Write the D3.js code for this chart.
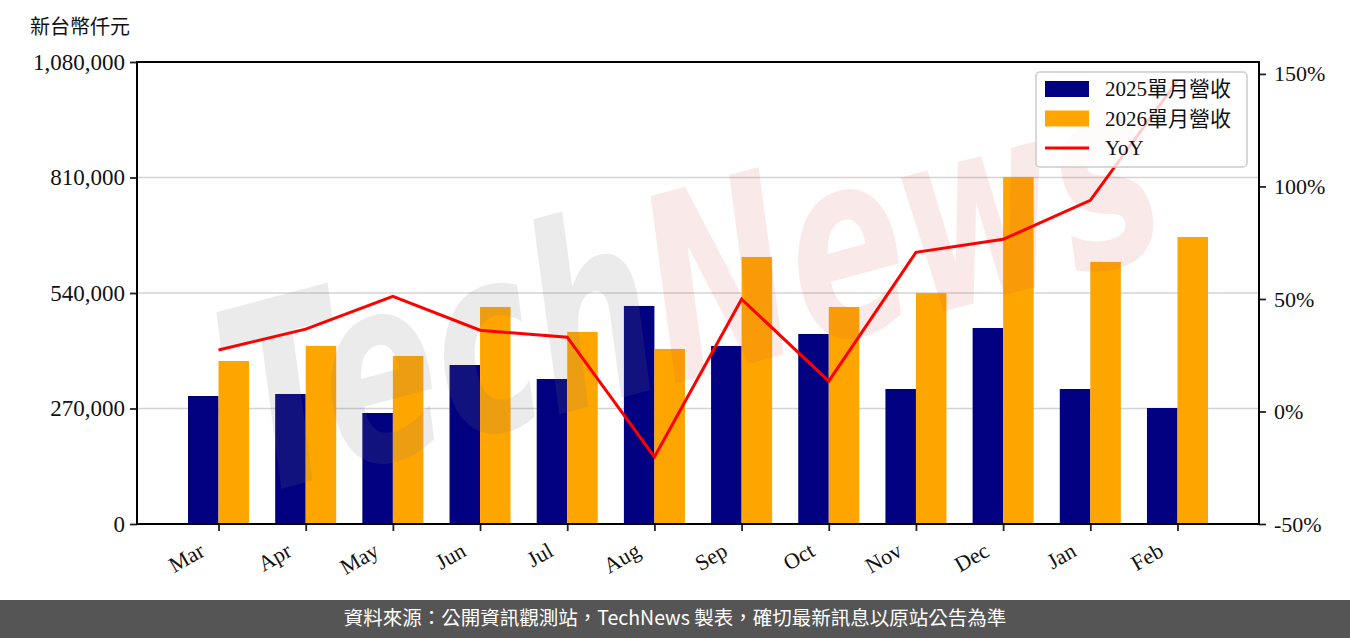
<!DOCTYPE html>
<html>
<head>
<meta charset="utf-8">
<script src="https://cdn.jsdelivr.net/npm/d3@7"></script>
<style>
  body { margin: 0; background: #fff; }
  svg { display: block; }
</style>
</head>
<body>
<div id="chart"></div>
<script>
// monthly revenue, thousand NTD
const months = ["Mar", "Apr", "May", "Jun", "Jul", "Aug", "Sep", "Oct", "Nov", "Dec", "Jan", "Feb"];
const rev2025 = [299200, 303900, 259500, 371700, 339000, 509700, 416200, 444200, 315600, 458200, 315600, 271200];
const rev2026 = [381100, 416200, 392800, 507300, 448900, 409200, 624200, 507300, 540100, 811300, 612600, 671000];
const yoy = [27.3, 36.6, 51.2, 36.1, 33.0, -20.2, 49.9, 13.5, 70.7, 76.5, 93.8, 147.0];

const leftTicks = [0, 270000, 540000, 810000, 1080000];
const rightTicks = [-50, 0, 50, 100, 150];
const seriesNames = ["2025單月營收", "2026單月營收", "YoY"];

const width = 1350, height = 638;
const margin = {top: 62, right: 91, bottom: 114, left: 137};
const innerW = width - margin.left - margin.right;
const innerH = height - margin.top - margin.bottom;
const barW = 0.35;

const serif = '"Liberation Serif", "Noto Sans CJK TC", serif';

const svg = d3.select("#chart").append("svg")
    .attr("width", width)
    .attr("height", height);

const span = months.length - 1 + 2 * barW;
const x = d3.scaleLinear()
    .domain([-barW - 0.05 * span, months.length - 1 + barW + 0.05 * span])
    .range([0, innerW]);
const y = d3.scaleLinear().domain([0, 1080000]).range([innerH, 0]);
const y2 = d3.scaleLinear().domain([-50, 155.3]).range([innerH, 0]);

const g = svg.append("g").attr("transform", `translate(${margin.left},${margin.top})`);

// grid
g.selectAll(".grid").data(leftTicks)
    .enter().append("line")
    .attr("class", "grid")
    .attr("x1", 0).attr("x2", innerW)
    .attr("y1", d => y(d)).attr("y2", d => y(d))
    .attr("stroke", "#d3d3d3")
    .attr("stroke-width", 1.6);

// bars
const idx = d3.range(months.length);
g.selectAll(".b25").data(idx)
    .enter().append("rect")
    .attr("class", "b25")
    .attr("x", i => x(i - barW))
    .attr("width", i => x(i) - x(i - barW))
    .attr("y", i => y(rev2025[i]))
    .attr("height", i => y(0) - y(rev2025[i]))
    .attr("fill", "#000080");

g.selectAll(".b26").data(idx)
    .enter().append("rect")
    .attr("class", "b26")
    .attr("x", i => x(i))
    .attr("width", i => x(i + barW) - x(i))
    .attr("y", i => y(rev2026[i]))
    .attr("height", i => y(0) - y(rev2026[i]))
    .attr("fill", "#FFA500");

// watermark
const wm = g.append("text")
    .attr("transform", `translate(${695 - margin.left},${305 - margin.top}) rotate(-15) scale(0.72,1.08)`)
    .attr("text-anchor", "middle")
    .attr("dominant-baseline", "middle")
    .attr("font-family", '"DejaVu Sans", sans-serif')
    .attr("font-style", "italic")
    .attr("font-weight", "bold")
    .attr("font-size", 238)
    .style("pointer-events", "none");
wm.append("tspan").text("Tech").attr("fill", "#7a7a7a").attr("fill-opacity", 0.15);
wm.append("tspan").text("News").attr("fill", "#d04a4a").attr("fill-opacity", 0.12);

// yoy line
const line = d3.line()
    .x((d, i) => x(i))
    .y(d => y2(d));
g.append("path")
    .datum(yoy)
    .attr("d", line)
    .attr("fill", "none")
    .attr("stroke", "#FF0000")
    .attr("stroke-width", 3)
    .attr("stroke-linejoin", "miter");

// axes
const yAxis = d3.axisLeft(y).tickValues(leftTicks).tickFormat(d3.format(",")).tickSizeOuter(0).tickSize(7).tickPadding(5);
const yAxis2 = d3.axisRight(y2).tickValues(rightTicks).tickFormat(d => d + "%").tickSizeOuter(0).tickSize(7).tickPadding(8);
const xAxis = d3.axisBottom(x).tickValues(idx).tickFormat(i => months[i]).tickSizeOuter(0).tickSize(7);

const ga = g.append("g").call(yAxis);
const gb = g.append("g").attr("transform", `translate(${innerW},0)`).call(yAxis2);
const gx = g.append("g").attr("transform", `translate(0,${innerH})`).call(xAxis);

[ga, gb, gx].forEach(a => {
    a.select(".domain").remove();
    a.selectAll(".tick line").attr("stroke", "#222").attr("stroke-width", 1.8);
    a.selectAll(".tick text").attr("font-family", serif).attr("font-size", 23).attr("fill", "#111");
});
gb.selectAll(".tick text").attr("font-size", 22);

gx.selectAll(".tick text")
    .attr("text-anchor", "end")
    .attr("dy", 0)
    .attr("y", 0)
    .attr("font-size", 22)
    .attr("transform", "translate(-13,31) rotate(-30)");

// frame
g.append("rect")
    .attr("width", innerW).attr("height", innerH)
    .attr("fill", "none")
    .attr("stroke", "#000")
    .attr("stroke-width", 2);

// y label
svg.append("text")
    .attr("x", 30).attr("y", 34)
    .attr("font-family", '"Noto Sans CJK TC", sans-serif')
    .attr("font-size", 20)
    .attr("fill", "#111")
    .text("新台幣仟元");

// legend
const lg = svg.append("g").attr("transform", "translate(1036,72)");
lg.append("rect")
    .attr("width", 211).attr("height", 95)
    .attr("rx", 4)
    .attr("fill", "#fff").attr("fill-opacity", 0.8)
    .attr("stroke", "#cccccc").attr("stroke-width", 1.5);
const legendColors = ["#000080", "#FFA500", "#FF0000"];
seriesNames.forEach((name, i) => {
    const cy = 17 + i * 29.5;
    if (i < 2) {
        lg.append("rect").attr("x", 9).attr("y", cy - 8).attr("width", 44).attr("height", 16).attr("fill", legendColors[i]);
    } else {
        lg.append("line").attr("x1", 9).attr("x2", 53).attr("y1", cy).attr("y2", cy)
            .attr("stroke", legendColors[i]).attr("stroke-width", 3);
    }
    lg.append("text")
        .attr("x", 69).attr("y", cy)
        .attr("dy", "0.35em")
        .attr("font-family", serif)
        .attr("font-size", 21)
        .attr("fill", "#111")
        .text(name);
});

// footer banner
svg.append("rect")
    .attr("x", 0).attr("y", 600)
    .attr("width", width).attr("height", 38)
    .attr("fill", "#555555");
svg.append("text")
    .attr("x", width / 2).attr("y", 620)
    .attr("text-anchor", "middle")
    .attr("dominant-baseline", "middle")
    .attr("font-family", '"Noto Sans CJK TC", sans-serif')
    .attr("font-size", 19.5)
    .attr("fill", "#fff")
    .text("資料來源：公開資訊觀測站，TechNews 製表，確切最新訊息以原站公告為準");
</script>
</body>
</html>
